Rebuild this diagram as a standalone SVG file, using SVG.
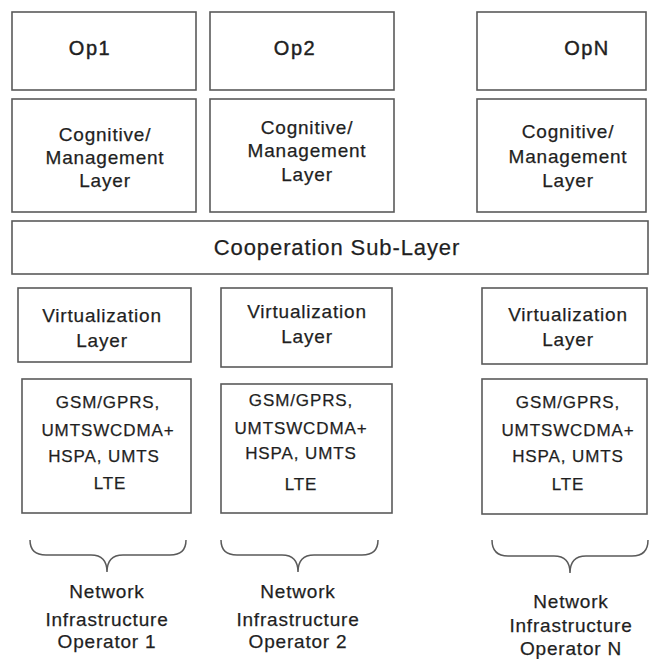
<svg xmlns="http://www.w3.org/2000/svg" width="649" height="659" viewBox="0 0 649 659">
<style>
.box{fill:#fff;stroke:#5a5a5a;stroke-width:1.6}
.t{font-family:"Liberation Sans",Arial,sans-serif;font-size:19px;fill:#1f1f1f;stroke:#1f1f1f;stroke-width:0.25px;text-anchor:middle;letter-spacing:0.8px}
.op{font-size:20px;letter-spacing:1.5px;stroke-width:0.45px}
.coop{font-size:22px;letter-spacing:0.9px}
.g{font-size:17px;letter-spacing:0.9px}
.brace{fill:none;stroke:#5a5a5a;stroke-width:1.5}
</style>
<rect width="649" height="659" fill="#fff"/>
<g id="op1"><rect class="box" x="12" y="12" width="184" height="78"/><text class="t op" x="90" y="55">Op1</text></g>
<g id="op2"><rect class="box" x="210" y="12" width="184" height="78"/><text class="t op" x="295" y="55">Op2</text></g>
<g id="opN"><rect class="box" x="477" y="12" width="169" height="78"/><text class="t op" x="587" y="55">OpN</text></g>
<g id="cog1"><rect class="box" x="12" y="99" width="184" height="113"/>
<text class="t" x="105" y="141">Cognitive/</text><text class="t" x="105" y="164">Management</text><text class="t" x="105" y="187">Layer</text></g>
<g id="cog2"><rect class="box" x="210" y="99" width="184" height="113"/>
<text class="t" x="307" y="134">Cognitive/</text><text class="t" x="307" y="157">Management</text><text class="t" x="307" y="181">Layer</text></g>
<g id="cogN"><rect class="box" x="477" y="99" width="169" height="113"/>
<text class="t" x="568" y="138">Cognitive/</text><text class="t" x="568" y="163">Management</text><text class="t" x="568" y="187">Layer</text></g>
<g id="coop"><rect class="box" x="12" y="221" width="636" height="53"/><text class="t coop" x="337" y="255">Cooperation Sub-Layer</text></g>
<g id="virt1"><rect class="box" x="18" y="288" width="173" height="74"/>
<text class="t" x="102" y="322">Virtualization</text><text class="t" x="102" y="347">Layer</text></g>
<g id="virt2"><rect class="box" x="221" y="288" width="171" height="79"/>
<text class="t" x="307" y="318">Virtualization</text><text class="t" x="307" y="343">Layer</text></g>
<g id="virtN"><rect class="box" x="482" y="288" width="165" height="76"/>
<text class="t" x="568" y="321">Virtualization</text><text class="t" x="568" y="346">Layer</text></g>
<g id="gsm1"><rect class="box" x="22" y="379" width="169" height="134"/>
<text class="t g" x="108" y="408">GSM/GPRS,</text><text class="t g" x="108" y="436">UMTSWCDMA+</text><text class="t g" x="104" y="462">HSPA, UMTS</text><text class="t g" x="110" y="489">LTE</text></g>
<g id="gsm2"><rect class="box" x="221" y="384" width="171" height="129"/>
<text class="t g" x="301" y="406">GSM/GPRS,</text><text class="t g" x="301" y="434">UMTSWCDMA+</text><text class="t g" x="301" y="459">HSPA, UMTS</text><text class="t g" x="301" y="490">LTE</text></g>
<g id="gsmN"><rect class="box" x="482" y="379" width="165" height="135"/>
<text class="t g" x="568" y="408">GSM/GPRS,</text><text class="t g" x="568" y="436">UMTSWCDMA+</text><text class="t g" x="568" y="462">HSPA, UMTS</text><text class="t g" x="568" y="490">LTE</text></g>
<g id="connectors">
<path class="brace" d="M30,540 Q30,555 46,555 H91 Q107,555 107,572 Q107,555 123,555 H170 Q186,555 186,540"/>
<path class="brace" d="M221,540 Q221,555 237,555 H282 Q298,555 298,572 Q298,555 314,555 H362 Q378,555 378,540"/>
<path class="brace" d="M492,540 Q492,556 508,556 H554 Q570,556 570,573 Q570,556 586,556 H632 Q648,556 648,540"/>
</g>
<g id="label1"><text class="t" x="107" y="598">Network</text><text class="t" x="107" y="626">Infrastructure</text><text class="t" x="107" y="648">Operator 1</text></g>
<g id="label2"><text class="t" x="298" y="598">Network</text><text class="t" x="298" y="626">Infrastructure</text><text class="t" x="298" y="648">Operator 2</text></g>
<g id="labelN"><text class="t" x="571" y="608">Network</text><text class="t" x="571" y="632">Infrastructure</text><text class="t" x="571" y="655">Operator N</text></g>
</svg>
